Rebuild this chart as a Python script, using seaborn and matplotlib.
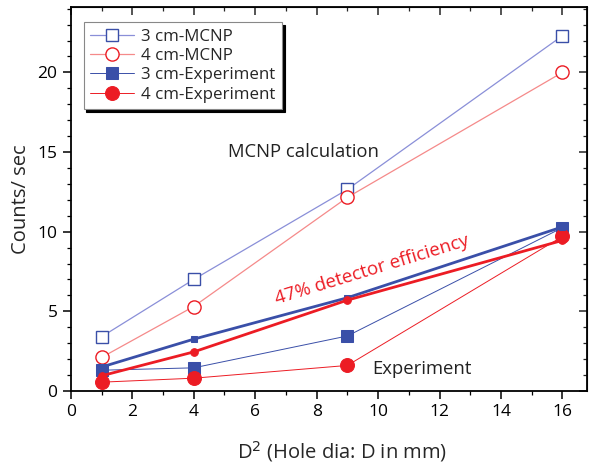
import matplotlib
matplotlib.use("Agg")
import matplotlib.pyplot as plt
import seaborn as sns
import numpy as np
from matplotlib.ticker import MultipleLocator

sns.set_style("white")
plt.rcParams['font.family'] = ['Open Sans', 'DejaVu Sans']

x = [1, 4, 9, 16]
mcnp_3cm = [3.4, 7.0, 12.65, 22.3]
mcnp_4cm = [2.1, 5.3, 12.15, 20.0]
exp_3cm = [1.3, 1.45, 3.45, 10.25]
exp_4cm = [0.55, 0.8, 1.6, 9.7]
eff_3cm = [1.5, 3.25, 5.85, 10.3]
eff_4cm = [0.95, 2.45, 5.7, 9.45]

blue = '#3a4fa8'
red = '#ec1c24'
lblue = '#8a8fd8'
lred = '#f58a8a'

fig = plt.figure(figsize=(5.9, 4.71), dpi=100)
ax = fig.add_axes([0.12, 0.17, 0.875, 0.815])

sns.lineplot(x=x, y=mcnp_3cm, ax=ax, color=lblue, lw=0.9, marker='s', ms=8.5,
             mfc='white', mec=blue, mew=1.0, label='3 cm-MCNP')
sns.lineplot(x=x, y=mcnp_4cm, ax=ax, color=lred, lw=0.9, marker='o', ms=9.5,
             mfc='white', mec=red, mew=1.0, label='4 cm-MCNP')
sns.lineplot(x=x, y=exp_3cm, ax=ax, color=blue, lw=0.7, marker='s', ms=9,
             mfc=blue, mec=blue, label='3 cm-Experiment')
sns.lineplot(x=x, y=exp_4cm, ax=ax, color=red, lw=0.7, marker='o', ms=10,
             mfc=red, mec=red, label='4 cm-Experiment')
sns.lineplot(x=x, y=eff_3cm, ax=ax, color=blue, lw=2.0, marker='s', ms=5,
             mfc=blue, mec=blue, legend=False)
sns.lineplot(x=x, y=eff_4cm, ax=ax, color=red, lw=2.0, marker='o', ms=5.5,
             mfc=red, mec=red, legend=False)

ax.set_xlim(0, 16.8)
ax.set_ylim(0, 24.1)
ax.xaxis.set_major_locator(MultipleLocator(2))
ax.xaxis.set_minor_locator(MultipleLocator(1))
ax.yaxis.set_major_locator(MultipleLocator(5))
ax.yaxis.set_minor_locator(MultipleLocator(1))

for s in ax.spines.values():
    s.set_color('black')
    s.set_linewidth(1.3)

ax.tick_params(which='both', direction='out', bottom=True, left=True,
               top=False, right=False, labelsize=12.5, colors='black')
ax.tick_params(which='major', length=6, width=1.1)
ax.tick_params(which='minor', length=3, width=0.9)
ax2 = ax.secondary_xaxis('top')
ax2.xaxis.set_major_locator(MultipleLocator(2))
ax2.xaxis.set_minor_locator(MultipleLocator(1))
ax2.tick_params(which='both', direction='in', labeltop=False)
ax2.tick_params(which='major', length=6, width=1.1)
ax2.tick_params(which='minor', length=3, width=0.9)
ax3 = ax.secondary_yaxis('right')
ax3.yaxis.set_major_locator(MultipleLocator(5))
ax3.yaxis.set_minor_locator(MultipleLocator(1))
ax3.tick_params(which='both', direction='in', labelright=False)
ax3.tick_params(which='major', length=6, width=1.1)
ax3.tick_params(which='minor', length=3, width=0.9)

ax.set_xlabel('D$^2$ (Hole dia: D in mm)', fontsize=14.5, labelpad=14)
ax.xaxis.label.set_x(0.525)
ax.set_ylabel('Counts/ sec', fontsize=14.5, labelpad=5)

ax.text(5.1, 15.0, 'MCNP calculation', fontsize=13.3, color='#222222',
        va='center', ha='left')
ax.text(9.8, 1.4, 'Experiment', fontsize=13.3, color='#222222',
        va='center', ha='left')
ax.text(9.8, 7.6, '47% detector efficiency', fontsize=13.5, color=red,
        va='center', ha='center', rotation=17)

leg = ax.legend(loc='upper left', bbox_to_anchor=(0.015, 0.975), fontsize=12.2,
                frameon=True, fancybox=False, shadow={'color': 'black', 'alpha': 1},
                handlelength=2.6, borderpad=0.4, labelspacing=0.2,
                handletextpad=0.4, borderaxespad=0.3)
leg.get_frame().set_edgecolor('#888888')
leg.get_frame().set_linewidth(0.8)
leg.get_frame().set_alpha(1)

fig.savefig('out.png', dpi=100)
